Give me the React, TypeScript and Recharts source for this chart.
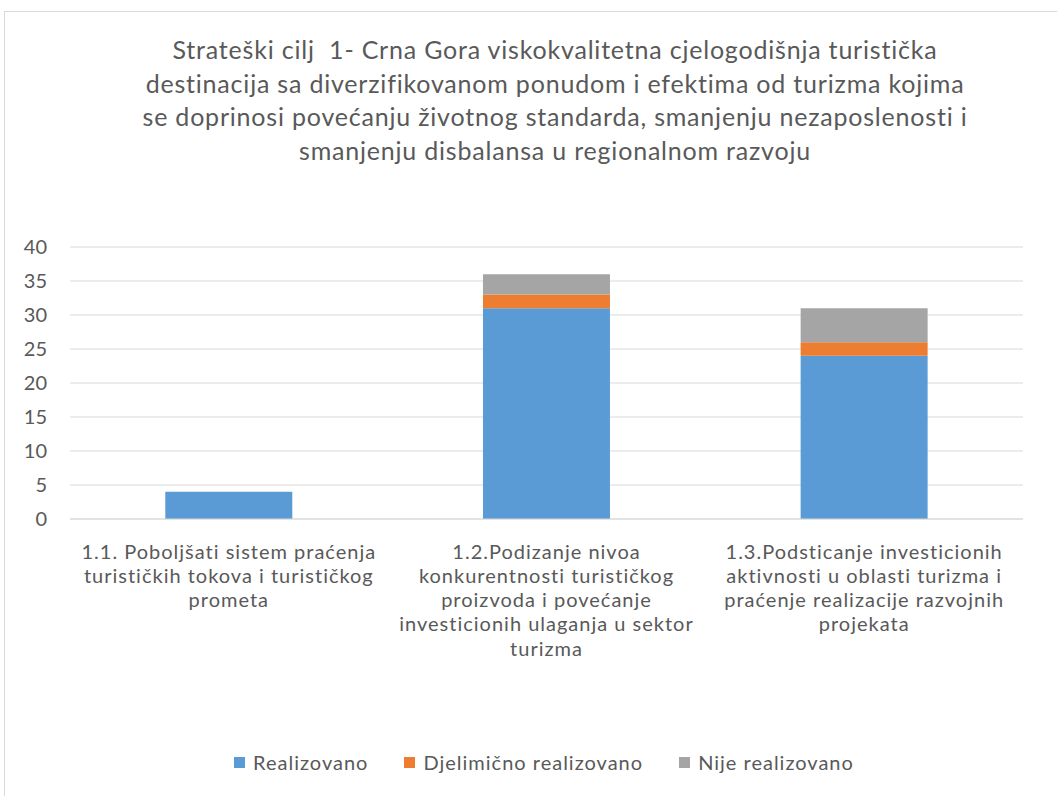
import React from 'react';
import { BarChart, Bar, XAxis, YAxis, CartesianGrid } from 'recharts';

const titleLines = [
  'Strateški cilj  1- Crna Gora viskokvalitetna cjelogodišnja turistička',
  'destinacija sa diverzifikovanom ponudom i efektima od turizma kojima',
  'se doprinosi povećanju životnog standarda, smanjenju nezaposlenosti i',
  'smanjenju disbalansa u regionalnom razvoju',
];

const categories = [
  '1.1. Poboljšati sistem praćenja\nturističkih tokova i turističkog\nprometa',
  '1.2.Podizanje nivoa\nkonkurentnosti turističkog\nproizvoda i povećanje\ninvesticionih ulaganja u sektor\nturizma',
  '1.3.Podsticanje investicionih\naktivnosti u oblasti turizma i\npraćenje realizacije razvojnih\nprojekata',
];

const realizovano = [4, 31, 24];
const djelimicno = [0, 2, 2];
const nije = [0, 3, 5];

const yTicks = [0, 5, 10, 15, 20, 25, 30, 35, 40];

const seriesNames = ['Realizovano', 'Djelimično realizovano', 'Nije realizovano'];
const colors = ['#5b9bd5', '#ed7d31', '#a5a5a5'];

const data = categories.map((c, i) => ({
  name: c,
  r: realizovano[i],
  d: djelimicno[i],
  n: nije[i],
}));

const FONT = 'Lato, "Open Sans", sans-serif';
const TEXT = '#595959';
const FS = 20;
const LS = 1.0;

const XTick = (props: any) => {
  const { x, y, payload } = props;
  const lines = String(payload.value).split('\n');
  return (
    <text x={x} y={y} textAnchor="middle" fill={TEXT} fontSize={FS} fontFamily={FONT} style={{ letterSpacing: LS }}>
      {lines.map((l, i) => (
        <tspan key={i} x={x} dy={i === 0 ? 39.5 : 24.3}>
          {l}
        </tspan>
      ))}
    </text>
  );
};

export default function App() {
  return (
    <div style={{ position: 'absolute', left: 0, top: 0, width: 1057, height: 796, overflow: 'hidden', background: '#fff' }}>
      <div
        style={{
          position: 'absolute',
          left: 4,
          top: 11,
          width: 1100,
          height: 900,
          border: '1px solid #d9d9d9',
          boxSizing: 'border-box',
        }}
      />
      <div
        style={{
          position: 'absolute',
          left: 5,
          top: 33,
          width: 1100,
          textAlign: 'center',
          fontFamily: FONT,
          fontSize: 25,
          letterSpacing: 0.8,
          lineHeight: '33.6px',
          color: TEXT,
        }}
      >
        {titleLines.map((l, i) => (
          <div key={i} style={{ whiteSpace: 'pre' }}>{l}</div>
        ))}
      </div>
      <div style={{ position: 'absolute', left: 0, top: 0 }}>
        <BarChart
          width={1057}
          height={796}
          data={data}
          margin={{ top: 247, right: 34, bottom: 77, left: 0 }}
          barCategoryGap="30%"
        >
          <CartesianGrid vertical={false} stroke="#d9d9d9" />
          <XAxis
            dataKey="name"
            tick={<XTick />}
            tickLine={false}
            tickSize={0}
            tickMargin={0}
            height={200}
            axisLine={{ stroke: '#d9d9d9' }}
            interval={0}
          />
          <YAxis
            width={70}
            domain={[0, 40]}
            ticks={yTicks}
            tickLine={false}
            tickSize={0}
            tickMargin={23}
            axisLine={false}
            tick={{ fill: TEXT, fontSize: FS, fontFamily: FONT }}
          />
          <Bar dataKey="r" stackId="a" fill={colors[0]} isAnimationActive={false} />
          <Bar dataKey="d" stackId="a" fill={colors[1]} isAnimationActive={false} />
          <Bar dataKey="n" stackId="a" fill={colors[2]} isAnimationActive={false} />
        </BarChart>
      </div>
      <div
        style={{
          position: 'absolute',
          left: 0,
          width: 1088,
          top: 750,
          display: 'flex',
          justifyContent: 'center',
          gap: 36,
          fontFamily: FONT,
          fontSize: FS,
          letterSpacing: LS,
          color: TEXT,
          lineHeight: '24px',
        }}
      >
        {seriesNames.map((s, i) => (
          <div key={s} style={{ display: 'flex', alignItems: 'center' }}>
            <span style={{ display: 'inline-block', width: 11, height: 11, background: colors[i], marginRight: 8 }} />
            <span>{s}</span>
          </div>
        ))}
      </div>
    </div>
  );
}
